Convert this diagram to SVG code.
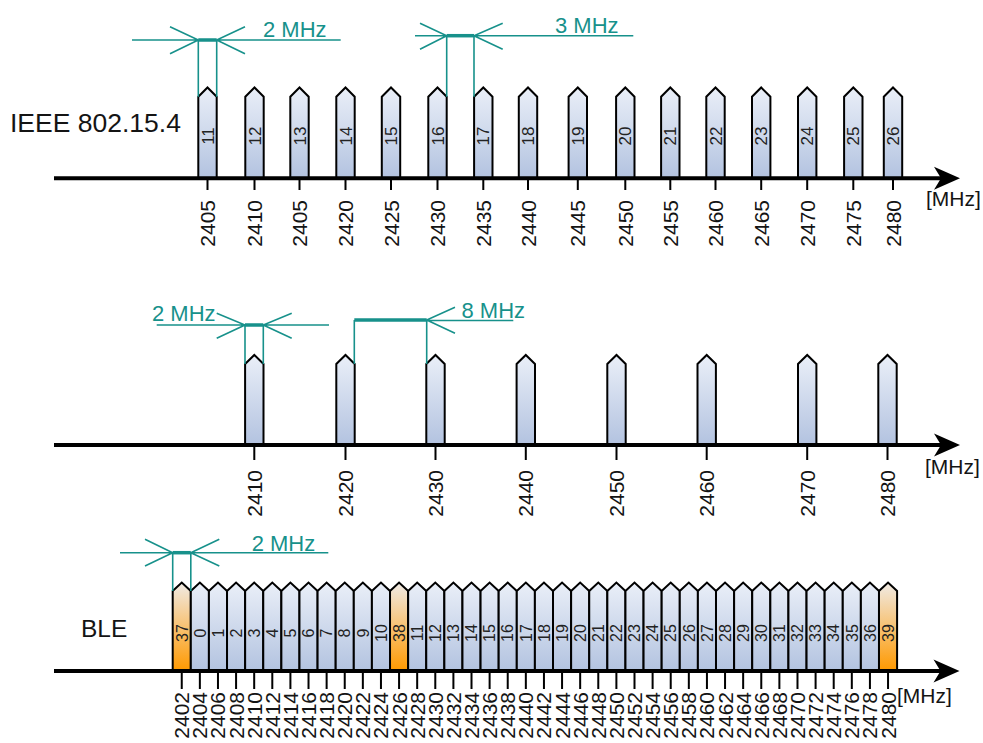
<svg xmlns="http://www.w3.org/2000/svg" xmlns:xlink="http://www.w3.org/1999/xlink" width="983" height="743" viewBox="0 0 983 743">
<style>
.ch{stroke:#000;stroke-width:2;stroke-linejoin:miter}
.blue{fill:url(#gb)}
.orange{fill:url(#go)}
.axis{stroke:#000;stroke-width:4}
.tick{stroke:#000;stroke-width:2}
.dim{stroke:#17918b;stroke-width:1.6;fill:none}
.dimb{stroke:#17918b;stroke-width:3.5}
text{font-family:"Liberation Sans",Arial,sans-serif;fill:#141414}
.fl{font-size:21px;text-anchor:end}
.cl{font-size:17px;text-anchor:middle;fill:#222}
.bl{font-size:16px;text-anchor:middle;fill:#222}
.dt{fill:#17918b;font-size:22px}
.big{font-size:26.5px}
.unit{font-size:21px}
</style>
<defs>
<linearGradient id="gb" x1="0" y1="0" x2="0" y2="1"><stop offset="0" stop-color="#eaeff8"/><stop offset="1" stop-color="#b3c3e0"/></linearGradient>
<linearGradient id="go" x1="0" y1="0" x2="0" y2="1"><stop offset="0" stop-color="#f0ebe6"/><stop offset="1" stop-color="#ff9900"/></linearGradient>
<path id="ah" d="M0,0 L-26,-11.5 L-19,0 L-26,11.5 Z" fill="#000"/>
<path id="tp" d="M-9.2,0 V-81.3 L0,-90.5 L9.2,-81.3 V0 Z"/>
<path id="mp" d="M-9.2,0 V-80.5 L0,-89.5 L9.2,-80.5 V0 Z"/>
<path id="bp" d="M0,88.5 V8.5 L9.05,0 L18.1,8.5 V88.5 Z"/>
</defs>

<g id="labels">
<text class="big" x="10" y="132">IEEE 802.15.4</text>
<text class="big" x="81" y="637" style="font-size:24.5px">BLE</text>
<text class="unit" x="926" y="206">[MHz]</text>
<text class="unit" x="925" y="474">[MHz]</text>
<text class="unit" x="897" y="703">[MHz]</text>
</g>

<g id="ieee-channels">
<use xlink:href="#tp" class="ch blue" x="207.5" y="178"/>
<use xlink:href="#tp" class="ch blue" x="254.5" y="178"/>
<use xlink:href="#tp" class="ch blue" x="299.5" y="178"/>
<use xlink:href="#tp" class="ch blue" x="345.5" y="178"/>
<use xlink:href="#tp" class="ch blue" x="391" y="178"/>
<use xlink:href="#tp" class="ch blue" x="437.5" y="178"/>
<use xlink:href="#tp" class="ch blue" x="483.3" y="178"/>
<use xlink:href="#tp" class="ch blue" x="528" y="178"/>
<use xlink:href="#tp" class="ch blue" x="577.8" y="178"/>
<use xlink:href="#tp" class="ch blue" x="625.3" y="178"/>
<use xlink:href="#tp" class="ch blue" x="670.3" y="178"/>
<use xlink:href="#tp" class="ch blue" x="715.5" y="178"/>
<use xlink:href="#tp" class="ch blue" x="761.2" y="178"/>
<use xlink:href="#tp" class="ch blue" x="807.2" y="178"/>
<use xlink:href="#tp" class="ch blue" x="853.3" y="178"/>
<use xlink:href="#tp" class="ch blue" x="893" y="178"/>
<text class="cl" transform="translate(213.5,136) rotate(-90)">11</text>
<text class="cl" transform="translate(260.5,136) rotate(-90)">12</text>
<text class="cl" transform="translate(305.5,136) rotate(-90)">13</text>
<text class="cl" transform="translate(351.5,136) rotate(-90)">14</text>
<text class="cl" transform="translate(397,136) rotate(-90)">15</text>
<text class="cl" transform="translate(443.5,136) rotate(-90)">16</text>
<text class="cl" transform="translate(489.3,136) rotate(-90)">17</text>
<text class="cl" transform="translate(534,136) rotate(-90)">18</text>
<text class="cl" transform="translate(583.8,136) rotate(-90)">19</text>
<text class="cl" transform="translate(631.3,136) rotate(-90)">20</text>
<text class="cl" transform="translate(676.3,136) rotate(-90)">21</text>
<text class="cl" transform="translate(721.5,136) rotate(-90)">22</text>
<text class="cl" transform="translate(767.2,136) rotate(-90)">23</text>
<text class="cl" transform="translate(813.2,136) rotate(-90)">24</text>
<text class="cl" transform="translate(859.3,136) rotate(-90)">25</text>
<text class="cl" transform="translate(899,136) rotate(-90)">26</text>
</g>

<g id="ieee-axis">
<line class="axis" x1="54" y1="178.3" x2="942" y2="178.3"/>
<use xlink:href="#ah" x="960" y="178.3"/>
<path class="tick" d="M207.5,180V190M254.5,180V190M299.5,180V190M345.5,180V190M391,180V190M437.5,180V190M483.3,180V190M528,180V190M577.8,180V190M625.3,180V190M670.3,180V190M715.5,180V190M761.2,180V190M807.2,180V190M853.3,180V190M893,180V190"/>
<text class="fl" transform="translate(215,200) rotate(-90)">2405</text>
<text class="fl" transform="translate(262,200) rotate(-90)">2410</text>
<text class="fl" transform="translate(307,200) rotate(-90)">2405</text>
<text class="fl" transform="translate(353,200) rotate(-90)">2420</text>
<text class="fl" transform="translate(398.5,200) rotate(-90)">2425</text>
<text class="fl" transform="translate(445,200) rotate(-90)">2430</text>
<text class="fl" transform="translate(490.8,200) rotate(-90)">2435</text>
<text class="fl" transform="translate(535.5,200) rotate(-90)">2440</text>
<text class="fl" transform="translate(585.3,200) rotate(-90)">2445</text>
<text class="fl" transform="translate(632.8,200) rotate(-90)">2450</text>
<text class="fl" transform="translate(677.8,200) rotate(-90)">2455</text>
<text class="fl" transform="translate(723,200) rotate(-90)">2460</text>
<text class="fl" transform="translate(768.7,200) rotate(-90)">2465</text>
<text class="fl" transform="translate(814.7,200) rotate(-90)">2470</text>
<text class="fl" transform="translate(860.8,200) rotate(-90)">2475</text>
<text class="fl" transform="translate(900.5,200) rotate(-90)">2480</text>
</g>

<g id="mid-channels">
<use xlink:href="#mp" class="ch blue" x="254.3" y="444.5"/>
<use xlink:href="#mp" class="ch blue" x="345.5" y="444.5"/>
<use xlink:href="#mp" class="ch blue" x="435.5" y="444.5"/>
<use xlink:href="#mp" class="ch blue" x="525.8" y="444.5"/>
<use xlink:href="#mp" class="ch blue" x="616.5" y="444.5"/>
<use xlink:href="#mp" class="ch blue" x="706.7" y="444.5"/>
<use xlink:href="#mp" class="ch blue" x="807.2" y="444.5"/>
<use xlink:href="#mp" class="ch blue" x="887.5" y="444.5"/>
</g>

<g id="mid-axis">
<line class="axis" x1="54" y1="445" x2="942" y2="445"/>
<use xlink:href="#ah" x="960" y="445"/>
<path class="tick" d="M254.3,447V460M345.5,447V460M435.5,447V460M525.8,447V460M616.5,447V460M706.7,447V460M807.2,447V460M887.5,447V460"/>
<text class="fl" transform="translate(261.8,470) rotate(-90)">2410</text>
<text class="fl" transform="translate(353,470) rotate(-90)">2420</text>
<text class="fl" transform="translate(443,470) rotate(-90)">2430</text>
<text class="fl" transform="translate(533.3,470) rotate(-90)">2440</text>
<text class="fl" transform="translate(624,470) rotate(-90)">2450</text>
<text class="fl" transform="translate(714.2,470) rotate(-90)">2460</text>
<text class="fl" transform="translate(814.7,470) rotate(-90)">2470</text>
<text class="fl" transform="translate(895,470) rotate(-90)">2480</text>
</g>

<g id="ble-channels">
<use xlink:href="#bp" class="ch orange" x="172.70" y="582.5"/>
<use xlink:href="#bp" class="ch blue" x="190.81" y="582.5"/>
<use xlink:href="#bp" class="ch blue" x="208.92" y="582.5"/>
<use xlink:href="#bp" class="ch blue" x="227.03" y="582.5"/>
<use xlink:href="#bp" class="ch blue" x="245.14" y="582.5"/>
<use xlink:href="#bp" class="ch blue" x="263.25" y="582.5"/>
<use xlink:href="#bp" class="ch blue" x="281.36" y="582.5"/>
<use xlink:href="#bp" class="ch blue" x="299.47" y="582.5"/>
<use xlink:href="#bp" class="ch blue" x="317.58" y="582.5"/>
<use xlink:href="#bp" class="ch blue" x="335.69" y="582.5"/>
<use xlink:href="#bp" class="ch blue" x="353.80" y="582.5"/>
<use xlink:href="#bp" class="ch blue" x="371.91" y="582.5"/>
<use xlink:href="#bp" class="ch orange" x="390.02" y="582.5"/>
<use xlink:href="#bp" class="ch blue" x="408.13" y="582.5"/>
<use xlink:href="#bp" class="ch blue" x="426.24" y="582.5"/>
<use xlink:href="#bp" class="ch blue" x="444.35" y="582.5"/>
<use xlink:href="#bp" class="ch blue" x="462.46" y="582.5"/>
<use xlink:href="#bp" class="ch blue" x="480.57" y="582.5"/>
<use xlink:href="#bp" class="ch blue" x="498.68" y="582.5"/>
<use xlink:href="#bp" class="ch blue" x="516.79" y="582.5"/>
<use xlink:href="#bp" class="ch blue" x="534.90" y="582.5"/>
<use xlink:href="#bp" class="ch blue" x="553.01" y="582.5"/>
<use xlink:href="#bp" class="ch blue" x="571.12" y="582.5"/>
<use xlink:href="#bp" class="ch blue" x="589.23" y="582.5"/>
<use xlink:href="#bp" class="ch blue" x="607.34" y="582.5"/>
<use xlink:href="#bp" class="ch blue" x="625.45" y="582.5"/>
<use xlink:href="#bp" class="ch blue" x="643.56" y="582.5"/>
<use xlink:href="#bp" class="ch blue" x="661.67" y="582.5"/>
<use xlink:href="#bp" class="ch blue" x="679.78" y="582.5"/>
<use xlink:href="#bp" class="ch blue" x="697.89" y="582.5"/>
<use xlink:href="#bp" class="ch blue" x="716.00" y="582.5"/>
<use xlink:href="#bp" class="ch blue" x="734.11" y="582.5"/>
<use xlink:href="#bp" class="ch blue" x="752.22" y="582.5"/>
<use xlink:href="#bp" class="ch blue" x="770.33" y="582.5"/>
<use xlink:href="#bp" class="ch blue" x="788.44" y="582.5"/>
<use xlink:href="#bp" class="ch blue" x="806.55" y="582.5"/>
<use xlink:href="#bp" class="ch blue" x="824.66" y="582.5"/>
<use xlink:href="#bp" class="ch blue" x="842.77" y="582.5"/>
<use xlink:href="#bp" class="ch blue" x="860.88" y="582.5"/>
<use xlink:href="#bp" class="ch orange" x="878.99" y="582.5"/>
<text class="bl" transform="translate(187.5,633) rotate(-90)">37</text>
<text class="bl" transform="translate(205.6,633) rotate(-90)">0</text>
<text class="bl" transform="translate(223.7,633) rotate(-90)">1</text>
<text class="bl" transform="translate(241.8,633) rotate(-90)">2</text>
<text class="bl" transform="translate(259.9,633) rotate(-90)">3</text>
<text class="bl" transform="translate(278.0,633) rotate(-90)">4</text>
<text class="bl" transform="translate(296.1,633) rotate(-90)">5</text>
<text class="bl" transform="translate(314.2,633) rotate(-90)">6</text>
<text class="bl" transform="translate(332.3,633) rotate(-90)">7</text>
<text class="bl" transform="translate(350.4,633) rotate(-90)">8</text>
<text class="bl" transform="translate(368.5,633) rotate(-90)">9</text>
<text class="bl" transform="translate(386.6,633) rotate(-90)">10</text>
<text class="bl" transform="translate(404.8,633) rotate(-90)">38</text>
<text class="bl" transform="translate(422.9,633) rotate(-90)">11</text>
<text class="bl" transform="translate(441.0,633) rotate(-90)">12</text>
<text class="bl" transform="translate(459.1,633) rotate(-90)">13</text>
<text class="bl" transform="translate(477.2,633) rotate(-90)">14</text>
<text class="bl" transform="translate(495.3,633) rotate(-90)">15</text>
<text class="bl" transform="translate(513.4,633) rotate(-90)">16</text>
<text class="bl" transform="translate(531.5,633) rotate(-90)">17</text>
<text class="bl" transform="translate(549.6,633) rotate(-90)">18</text>
<text class="bl" transform="translate(567.7,633) rotate(-90)">19</text>
<text class="bl" transform="translate(585.9,633) rotate(-90)">20</text>
<text class="bl" transform="translate(604.0,633) rotate(-90)">21</text>
<text class="bl" transform="translate(622.1,633) rotate(-90)">22</text>
<text class="bl" transform="translate(640.2,633) rotate(-90)">23</text>
<text class="bl" transform="translate(658.3,633) rotate(-90)">24</text>
<text class="bl" transform="translate(676.4,633) rotate(-90)">25</text>
<text class="bl" transform="translate(694.5,633) rotate(-90)">26</text>
<text class="bl" transform="translate(712.6,633) rotate(-90)">27</text>
<text class="bl" transform="translate(730.7,633) rotate(-90)">28</text>
<text class="bl" transform="translate(748.8,633) rotate(-90)">29</text>
<text class="bl" transform="translate(767.0,633) rotate(-90)">30</text>
<text class="bl" transform="translate(785.1,633) rotate(-90)">31</text>
<text class="bl" transform="translate(803.2,633) rotate(-90)">32</text>
<text class="bl" transform="translate(821.3,633) rotate(-90)">33</text>
<text class="bl" transform="translate(839.4,633) rotate(-90)">34</text>
<text class="bl" transform="translate(857.5,633) rotate(-90)">35</text>
<text class="bl" transform="translate(875.6,633) rotate(-90)">36</text>
<text class="bl" transform="translate(893.7,633) rotate(-90)">39</text>
</g>

<g id="ble-axis">
<line class="axis" x1="54" y1="671" x2="942" y2="671"/>
<use xlink:href="#ah" x="959.5" y="671"/>
<path class="tick" d="M181.75,673V689M199.86,673V689M217.97,673V689M236.08,673V689M254.19,673V689M272.30,673V689M290.41,673V689M308.52,673V689M326.63,673V689M344.74,673V689M362.85,673V689M380.96,673V689M399.07,673V689M417.18,673V689M435.29,673V689M453.40,673V689M471.51,673V689M489.62,673V689M507.73,673V689M525.84,673V689M543.95,673V689M562.06,673V689M580.17,673V689M598.28,673V689M616.39,673V689M634.50,673V689M652.61,673V689M670.72,673V689M688.83,673V689M706.94,673V689M725.05,673V689M743.16,673V689M761.27,673V689M779.38,673V689M797.49,673V689M815.60,673V689M833.71,673V689M851.82,673V689M869.93,673V689M888.04,673V689"/>
<text class="fl" transform="translate(189.25,692) rotate(-90)">2402</text>
<text class="fl" transform="translate(207.36,692) rotate(-90)">2404</text>
<text class="fl" transform="translate(225.47,692) rotate(-90)">2406</text>
<text class="fl" transform="translate(243.58,692) rotate(-90)">2408</text>
<text class="fl" transform="translate(261.69,692) rotate(-90)">2410</text>
<text class="fl" transform="translate(279.80,692) rotate(-90)">2412</text>
<text class="fl" transform="translate(297.91,692) rotate(-90)">2414</text>
<text class="fl" transform="translate(316.02,692) rotate(-90)">2416</text>
<text class="fl" transform="translate(334.13,692) rotate(-90)">2418</text>
<text class="fl" transform="translate(352.24,692) rotate(-90)">2420</text>
<text class="fl" transform="translate(370.35,692) rotate(-90)">2422</text>
<text class="fl" transform="translate(388.46,692) rotate(-90)">2424</text>
<text class="fl" transform="translate(406.57,692) rotate(-90)">2426</text>
<text class="fl" transform="translate(424.68,692) rotate(-90)">2428</text>
<text class="fl" transform="translate(442.79,692) rotate(-90)">2430</text>
<text class="fl" transform="translate(460.90,692) rotate(-90)">2432</text>
<text class="fl" transform="translate(479.01,692) rotate(-90)">2434</text>
<text class="fl" transform="translate(497.12,692) rotate(-90)">2436</text>
<text class="fl" transform="translate(515.23,692) rotate(-90)">2438</text>
<text class="fl" transform="translate(533.34,692) rotate(-90)">2440</text>
<text class="fl" transform="translate(551.45,692) rotate(-90)">2442</text>
<text class="fl" transform="translate(569.56,692) rotate(-90)">2444</text>
<text class="fl" transform="translate(587.67,692) rotate(-90)">2446</text>
<text class="fl" transform="translate(605.78,692) rotate(-90)">2448</text>
<text class="fl" transform="translate(623.89,692) rotate(-90)">2450</text>
<text class="fl" transform="translate(642.00,692) rotate(-90)">2452</text>
<text class="fl" transform="translate(660.11,692) rotate(-90)">2454</text>
<text class="fl" transform="translate(678.22,692) rotate(-90)">2456</text>
<text class="fl" transform="translate(696.33,692) rotate(-90)">2458</text>
<text class="fl" transform="translate(714.44,692) rotate(-90)">2460</text>
<text class="fl" transform="translate(732.55,692) rotate(-90)">2462</text>
<text class="fl" transform="translate(750.66,692) rotate(-90)">2464</text>
<text class="fl" transform="translate(768.77,692) rotate(-90)">2466</text>
<text class="fl" transform="translate(786.88,692) rotate(-90)">2468</text>
<text class="fl" transform="translate(804.99,692) rotate(-90)">2470</text>
<text class="fl" transform="translate(823.10,692) rotate(-90)">2472</text>
<text class="fl" transform="translate(841.21,692) rotate(-90)">2474</text>
<text class="fl" transform="translate(859.32,692) rotate(-90)">2476</text>
<text class="fl" transform="translate(877.43,692) rotate(-90)">2478</text>
<text class="fl" transform="translate(895.54,692) rotate(-90)">2480</text>
</g>

<g id="connectors">
<g id="dim-ieee-2mhz">
<path class="dim" d="M132,40H340.7M170,26.7L198.3,40L170,53.7M245,26.7L216.7,40L245,53.7M198.3,40V96.7M216.7,40V96.7"/>
<line class="dimb" x1="198.3" y1="40" x2="216.7" y2="40"/>
<text class="dt" x="263" y="36.5">2 MHz</text>
</g>
<g id="dim-ieee-3mhz">
<path class="dim" d="M415,35.7H633.3M420,23.3L446.7,35.7L420,49.3M502.7,23.3L474,35.7L502.7,49.3M446.7,35.7V96.7M474,35.7V96.7"/>
<line class="dimb" x1="446.7" y1="35.7" x2="474" y2="35.7"/>
<text class="dt" x="555" y="32.5">3 MHz</text>
</g>
<g id="dim-mid-2mhz">
<path class="dim" d="M156.7,325H329M216.7,313.3L245,325L216.7,338.3M291.7,313.3L263.3,325L291.7,338.3M245,325V364M263.3,325V364"/>
<line class="dimb" x1="245" y1="325" x2="263.3" y2="325"/>
<text class="dt" x="152" y="320.5">2 MHz</text>
</g>
<g id="dim-mid-8mhz">
<path class="dim" d="M426.7,320.5H513.3M455,307.3L426.7,320L455,333.3M354.3,320V364M426.7,320V364"/>
<line class="dimb" x1="354.3" y1="320" x2="426.7" y2="320"/>
<text class="dt" x="461.5" y="317.5">8 MHz</text>
</g>
<g id="dim-ble-2mhz">
<path class="dim" d="M120,552.7H328.3M145,539.3L172.7,552.7L145,566M219.3,539.3L190.8,552.7L219.3,566M172.7,552.7V591M190.8,552.7V591"/>
<line class="dimb" x1="172.7" y1="552.7" x2="190.8" y2="552.7"/>
<text class="dt" x="251.7" y="550.5">2 MHz</text>
</g>
</g>
</svg>
